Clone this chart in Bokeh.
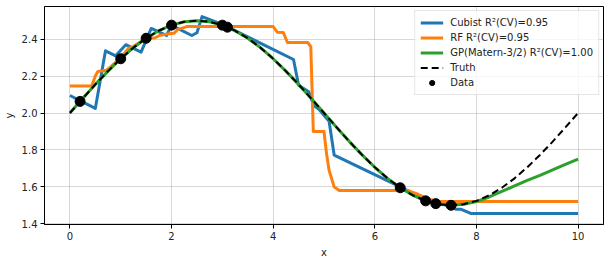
from bokeh.plotting import figure
from bokeh.models import FixedTicker, PrintfTickFormatter, Range1d, Legend
from bokeh.embed import file_html
from bokeh.resources import INLINE

# ---- data ----
truth_x = [0, 0.25, 0.5, 0.75, 1.0, 1.25, 1.5, 1.75, 2.0, 2.25, 2.5, 2.75, 3.0, 3.25, 3.5,
           3.75, 4.0, 4.25, 4.5, 4.75, 5.0, 5.25, 5.5, 5.75, 6.0, 6.25, 6.5, 6.75, 7.0,
           7.25, 7.5, 7.75, 8.0, 8.25, 8.5, 8.75, 9.0, 9.25, 9.5, 9.75, 10.0]
truth_y = [2.000, 2.078, 2.155, 2.227, 2.294, 2.354, 2.405, 2.446, 2.476, 2.494, 2.500,
           2.494, 2.476, 2.446, 2.405, 2.354, 2.294, 2.227, 2.155, 2.078, 2.000, 1.922,
           1.845, 1.773, 1.706, 1.646, 1.595, 1.554, 1.524, 1.506, 1.500, 1.506, 1.524,
           1.554, 1.595, 1.646, 1.706, 1.773, 1.845, 1.922, 2.000]
gp_y = [2.000, 2.078, 2.155, 2.227, 2.294, 2.354, 2.405, 2.446, 2.476, 2.494, 2.500,
        2.494, 2.476, 2.446, 2.405, 2.354, 2.294, 2.227, 2.155, 2.078, 2.000, 1.922,
        1.845, 1.773, 1.706, 1.646, 1.595, 1.554, 1.524, 1.506, 1.500, 1.506, 1.520,
        1.545, 1.575, 1.605, 1.635, 1.662, 1.692, 1.722, 1.750]

cubist_x = [0.0, 0.5, 0.7, 0.9, 1.1, 1.4, 1.6, 1.9, 2.0, 2.4, 2.5, 2.6, 3.0, 4.4, 4.5,
            4.7, 4.8, 4.9, 5.1, 5.2, 6.5, 7.0, 7.5, 7.6, 7.7, 7.9, 10.0]
cubist_y = [2.095, 2.025, 2.337, 2.310, 2.370, 2.330, 2.458, 2.420, 2.475, 2.420, 2.435,
            2.522, 2.480, 2.290, 2.150, 2.115, 2.040, 2.020, 1.955, 1.772, 1.600, 1.530,
            1.495, 1.478, 1.478, 1.455, 1.455]

rf_x = [0.0, 0.43, 0.5, 0.55, 0.72, 0.8, 0.92, 1.0, 1.15, 1.25, 1.4, 1.52, 1.68, 1.76,
        1.95, 2.05, 2.12, 2.3, 4.0, 4.08, 4.2, 4.28, 4.68, 4.74, 4.79, 5.0, 5.05, 5.1,
        5.2, 5.3, 6.65, 6.85, 7.05, 7.3, 10.0]
rf_y = [2.146, 2.146, 2.200, 2.225, 2.232, 2.250, 2.280, 2.300, 2.350, 2.360, 2.388,
        2.404, 2.408, 2.420, 2.430, 2.432, 2.452, 2.468, 2.468, 2.438, 2.436, 2.382,
        2.382, 2.360, 1.900, 1.900, 1.780, 1.690, 1.600, 1.580, 1.580, 1.560, 1.533,
        1.520, 1.520]

data_x = [0.2, 1.0, 1.5, 2.0, 3.0, 3.1, 6.5, 7.0, 7.2, 7.5]
data_y = [2.063, 2.294, 2.405, 2.476, 2.476, 2.465, 1.595, 1.524, 1.509, 1.500]

x_ticks = [0, 2, 4, 6, 8, 10]
y_ticks = [1.4, 1.6, 1.8, 2.0, 2.2, 2.4]

labels = ["Cubist R\u00b2(CV)=0.95", "RF R\u00b2(CV)=0.95",
          "GP(Matern-3/2) R\u00b2(CV)=1.00", "Truth", "Data"]

FONT = "DejaVu Sans"

p = figure(width=609, height=262, output_backend="svg", toolbar_location=None,
           x_range=Range1d(-0.5, 10.5), y_range=Range1d(1.396, 2.577),
           min_border_left=44, min_border_right=6, min_border_top=6, min_border_bottom=38,
           x_axis_label="x", y_axis_label="y")
p.background_fill_color = "white"
p.border_fill_color = "white"
p.outline_line_color = "black"
p.outline_line_width = 1

for ax in (p.xaxis[0], p.yaxis[0]):
    ax.major_tick_out = 4
    ax.major_tick_in = 0
    ax.minor_tick_out = 0
    ax.minor_tick_in = 0
    ax.axis_line_color = "black"
    ax.major_tick_line_color = "black"
    ax.major_label_text_font = FONT
    ax.major_label_text_font_size = "10px"
    ax.major_label_text_color = "#222222"
    ax.axis_label_text_font = FONT
    ax.axis_label_text_font_size = "10px"
    ax.axis_label_text_font_style = "normal"
    ax.axis_label_text_color = "#222222"
    ax.axis_label_standoff = 4
    ax.major_label_standoff = 3

p.xaxis.ticker = FixedTicker(ticks=x_ticks)
p.yaxis.ticker = FixedTicker(ticks=y_ticks)
p.yaxis.formatter = PrintfTickFormatter(format="%.1f")
p.xgrid.ticker = FixedTicker(ticks=x_ticks)
p.ygrid.ticker = FixedTicker(ticks=y_ticks)
p.grid.grid_line_color = "#b0b0b0"
p.grid.grid_line_alpha = 0.5
p.grid.grid_line_width = 1

r1 = p.line(cubist_x, cubist_y, line_color="#1f77b4", line_width=3, line_join="round")
r2 = p.line(rf_x, rf_y, line_color="#ff7f0e", line_width=3, line_join="round")
r3 = p.line(truth_x, gp_y, line_color="#2ca02c", line_width=3, line_join="round")
r4 = p.line(truth_x, truth_y, line_color="black", line_width=2, line_dash="7 4")
r5 = p.scatter(data_x, data_y, size=10, fill_color="black", line_color="black")

legend = Legend(items=[(labels[0], [r1]), (labels[1], [r2]), (labels[2], [r3]),
                       (labels[3], [r4]), (labels[4], [r5])],
                location="top_right")
legend.label_text_font = FONT
legend.label_text_font_size = "10px"
legend.label_text_color = "#222222"
legend.border_line_color = "#cccccc"
legend.background_fill_alpha = 0.8
legend.margin = 4
legend.padding = 5
legend.spacing = 2
legend.label_height = 13
legend.glyph_height = 13
legend.glyph_width = 23
legend.label_standoff = 7
p.add_layout(legend)

open("out.html", "w").write(file_html(p, INLINE))
